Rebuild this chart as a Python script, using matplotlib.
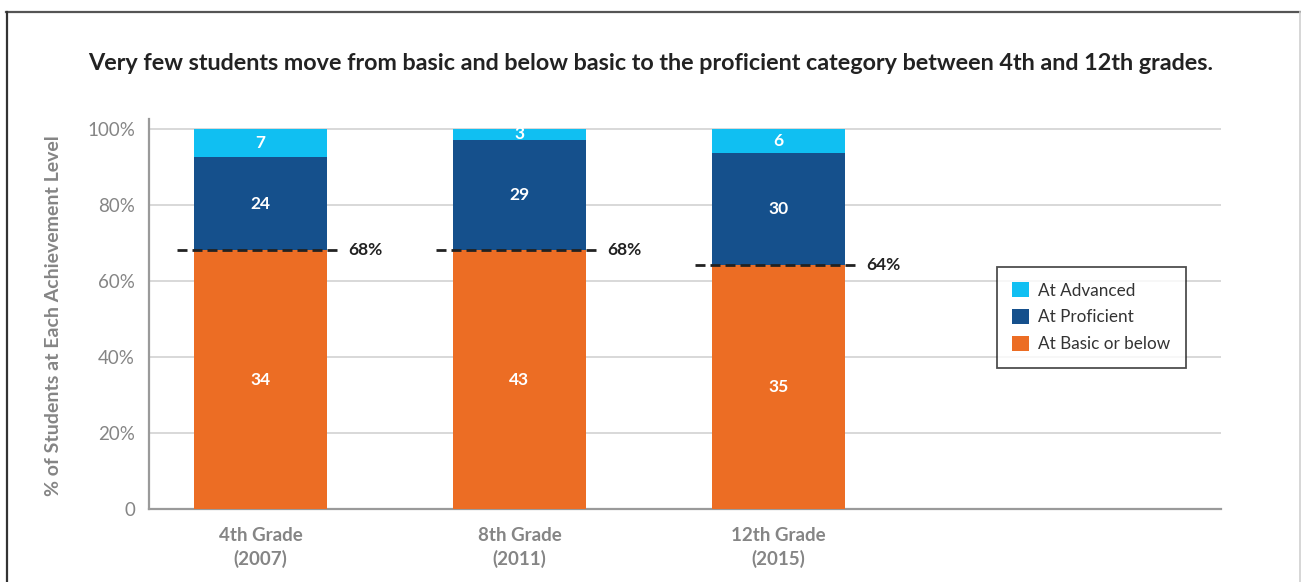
import matplotlib
matplotlib.use("Agg")
import matplotlib.pyplot as plt
from matplotlib.lines import Line2D
from matplotlib.patches import Rectangle

plt.rcParams["font.family"] = ["Lato", "DejaVu Sans"]

# -----------------------------
# Dados
# -----------------------------
grades = ["4th Grade\n(2007)", "8th Grade\n(2011)", "12th Grade\n(2015)"]

# alturas dos segmentos
basic_h = [68, 68, 64]
proficient_h = [24.5, 29, 29.5]
advanced_h = [7.5, 3, 6.5]

# rótulos escritos dentro das barras
basic_lbl = ["34", "43", "35"]
proficient_lbl = ["24", "29", "30"]
advanced_lbl = ["7", "3", "6"]

# linha tracejada (topo do básico)
cut_vals = [68, 68, 64]
cut_lbl = ["68%", "68%", "64%"]

yticks = [0, 20, 40, 60, 80, 100]
ytick_lbl = ["0", "20%", "40%", "60%", "80%", "100%"]

c_adv = "#10BFF2"
c_prof = "#15508C"
c_basic = "#EC6D24"
gray = "#858585"

# -----------------------------
# Figura
# -----------------------------
W, H = 1301, 582
fig = plt.figure(figsize=(W / 100, H / 100), dpi=100)
ax = fig.add_axes([149 / W, 1 - 509 / H, (1221 - 149) / W, (509 - 119) / H])

x = list(range(len(grades)))
bw = 0.514

b1 = ax.bar(x, basic_h, bw, color=c_basic, label="At Basic or below", zorder=3)
bottom2 = basic_h
b2 = ax.bar(x, proficient_h, bw, bottom=bottom2, color=c_prof, label="At Proficient", zorder=3)
bottom3 = [a + b for a, b in zip(basic_h, proficient_h)]
b3 = ax.bar(x, advanced_h, bw, bottom=bottom3, color=c_adv, label="At Advanced", zorder=3)

ax.set_xlim(-0.4305, 3.708)
ax.set_ylim(0, 102.5)

# recorta os rótulos no topo (100%)
clip_rect = Rectangle((-1, 0), 6, 100, transform=ax.transData, visible=False)
ax.add_patch(clip_rect)

for i in x:
    segs = [
        (0, basic_h[i], basic_lbl[i]),
        (bottom2[i], proficient_h[i], proficient_lbl[i]),
        (bottom3[i], advanced_h[i], advanced_lbl[i]),
    ]
    for b, h, t in segs:
        txt = ax.text(i, b + h / 2, t, ha="center", va="center", color="white",
                      fontsize=12.5, fontweight="bold", zorder=5)
        txt.set_clip_path(clip_rect)

    # linha tracejada + rótulo
    ax.plot([i - 0.322, i + 0.315], [cut_vals[i], cut_vals[i]], color="#222222",
            lw=2, dashes=(3.6, 1.8), zorder=4, solid_capstyle="butt")
    ax.text(i + 0.338, cut_vals[i], cut_lbl[i], ha="left", va="center",
            color="#222222", fontsize=12.5, fontweight="bold", zorder=5)

# eixos
ax.set_yticks(yticks)
ax.set_yticklabels(ytick_lbl)
ax.set_xticks(x)
ax.set_xticklabels(grades, fontweight="bold", linespacing=1.4)
ax.tick_params(axis="y", length=0, pad=10, labelsize=13.5, labelcolor=gray)
ax.tick_params(axis="x", length=0, pad=13, labelsize=13.5, labelcolor=gray)
ax.grid(axis="y", color="#d8d8d8", lw=1.4, zorder=0)
ax.set_axisbelow(True)
for s in ["top", "right"]:
    ax.spines[s].set_visible(False)
for s in ["left", "bottom"]:
    ax.spines[s].set_color("#9a9a9a")
    ax.spines[s].set_linewidth(1.6)

ax.set_ylabel("% of Students at Each Achievement Level", fontsize=14,
              fontweight="bold", color=gray)
ax.yaxis.set_label_coords((62 - 149) / (1221 - 149), (509 - 316) / (509 - 119))

# legenda
leg = ax.legend(handles=[b3, b2, b1], loc="upper left",
                bbox_to_anchor=(997 / W, 1 - 267 / H), bbox_transform=fig.transFigure,
                frameon=True, fancybox=False, edgecolor="#222222", fontsize=12.3,
                handlelength=0.95, handleheight=0.95, handletextpad=0.55,
                labelspacing=0.62, borderpad=0.9, borderaxespad=0)
leg.get_frame().set_linewidth(1.3)
for t in leg.get_texts():
    t.set_color("#333333")

# título
fig.text(651 / W, 1 - 64 / H,
         "Very few students move from basic and below basic to the proficient category between 4th and 12th grades.",
         ha="center", va="center", fontsize=16.8, fontweight="bold", color="#222222")

# moldura
fig.add_artist(Line2D([6 / W, 1], [1 - 12 / H, 1 - 12 / H], color="#555555", lw=1.6))
fig.add_artist(Line2D([6.5 / W, 6.5 / W], [0, 1 - 12 / H], color="#333333", lw=1.6))
fig.add_artist(Line2D([1300 / W, 1300 / W], [0, 1 - 12 / H], color="#d0d0d0", lw=1.2))

fig.savefig("out.png", dpi=100)
